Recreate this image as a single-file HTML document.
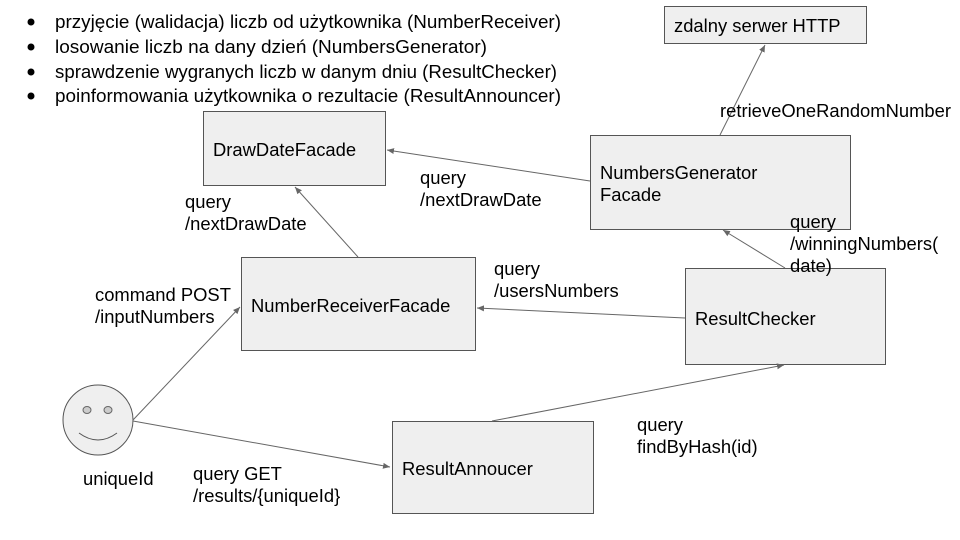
<!DOCTYPE html>
<html><head><meta charset="utf-8"><style>
html,body{margin:0;padding:0;background:#fff;}
svg{display:block;font-family:"Liberation Sans",Arial,sans-serif;}
text{font-size:18.4px;fill:#000;}
text.b{font-size:18px;}
</style></head><body>
<svg width="960" height="540" viewBox="0 0 960 540" xmlns="http://www.w3.org/2000/svg">
<defs><marker id="a" markerWidth="8" markerHeight="8" refX="7" refY="4" orient="auto" markerUnits="userSpaceOnUse"><path d="M0,1 L7,4 L0,7 z" fill="#666"/></marker></defs>
<g fill="#000">
<circle cx="31" cy="22" r="3.5"/><circle cx="31" cy="47" r="3.5"/><circle cx="31" cy="72" r="3.5"/><circle cx="31" cy="96" r="3.5"/>
</g>
<text class="b" x="55" y="28" textLength="506" lengthAdjust="spacingAndGlyphs">przyjęcie (walidacja) liczb od użytkownika (NumberReceiver)</text>
<text class="b" x="55" y="53" textLength="432" lengthAdjust="spacingAndGlyphs">losowanie liczb na dany dzień (NumbersGenerator)</text>
<text class="b" x="55" y="78" textLength="502" lengthAdjust="spacingAndGlyphs">sprawdzenie wygranych liczb w danym dniu (ResultChecker)</text>
<text class="b" x="55" y="102" textLength="506" lengthAdjust="spacingAndGlyphs">poinformowania użytkownika o rezultacie (ResultAnnouncer)</text>
<g fill="#efefef" stroke="#555" stroke-width="1">
<rect x="664.5" y="6.5" width="202" height="37"/>
<rect x="590.5" y="135.5" width="260" height="94"/>
<rect x="203.5" y="111.5" width="182" height="74"/>
<rect x="241.5" y="257.5" width="234" height="93"/>
<rect x="685.5" y="268.5" width="200" height="96"/>
<rect x="392.5" y="421.5" width="201" height="92"/>
<circle cx="98" cy="420" r="35"/>
</g>
<g fill="#ccc" stroke="#666"><ellipse cx="87" cy="410" rx="4" ry="3.5"/><ellipse cx="108" cy="410" rx="4" ry="3.5"/></g>
<path d="M79,433 Q98,447 117,433" fill="none" stroke="#555"/>
<g stroke="#666" stroke-width="1" marker-end="url(#a)">
<line x1="720" y1="135" x2="765" y2="45"/>
<line x1="590" y1="181" x2="387" y2="150"/>
<line x1="358" y1="257" x2="295" y2="187"/>
<line x1="785" y1="268" x2="723" y2="230"/>
<line x1="685" y1="318" x2="477" y2="308"/>
<line x1="133" y1="420" x2="240" y2="307"/>
<line x1="133" y1="421" x2="390" y2="467"/>
<line x1="492" y1="421" x2="784" y2="365"/>
</g>
<text x="674" y="32">zdalny serwer HTTP</text>
<text x="600" y="179">NumbersGenerator</text><text x="600" y="201">Facade</text>
<text x="213" y="156">DrawDateFacade</text>
<text x="251" y="312">NumberReceiverFacade</text>
<text x="695" y="325">ResultChecker</text>
<text x="402" y="475">ResultAnnoucer</text>
<text x="720" y="117">retrieveOneRandomNumber</text>
<text x="420" y="184">query</text><text x="420" y="206">/nextDrawDate</text>
<text x="185" y="208">query</text><text x="185" y="230">/nextDrawDate</text>
<text x="790" y="228">query</text><text x="790" y="250">/winningNumbers(</text><text x="790" y="272">date)</text>
<text x="494" y="275">query</text><text x="494" y="297">/usersNumbers</text>
<text x="95" y="301">command POST</text><text x="95" y="323">/inputNumbers</text>
<text x="637" y="431">query</text><text x="637" y="453">findByHash(id)</text>
<text x="83" y="485">uniqueId</text>
<text x="193" y="480">query GET</text><text x="193" y="502">/results/{uniqueId}</text>
</svg>
</body></html>
